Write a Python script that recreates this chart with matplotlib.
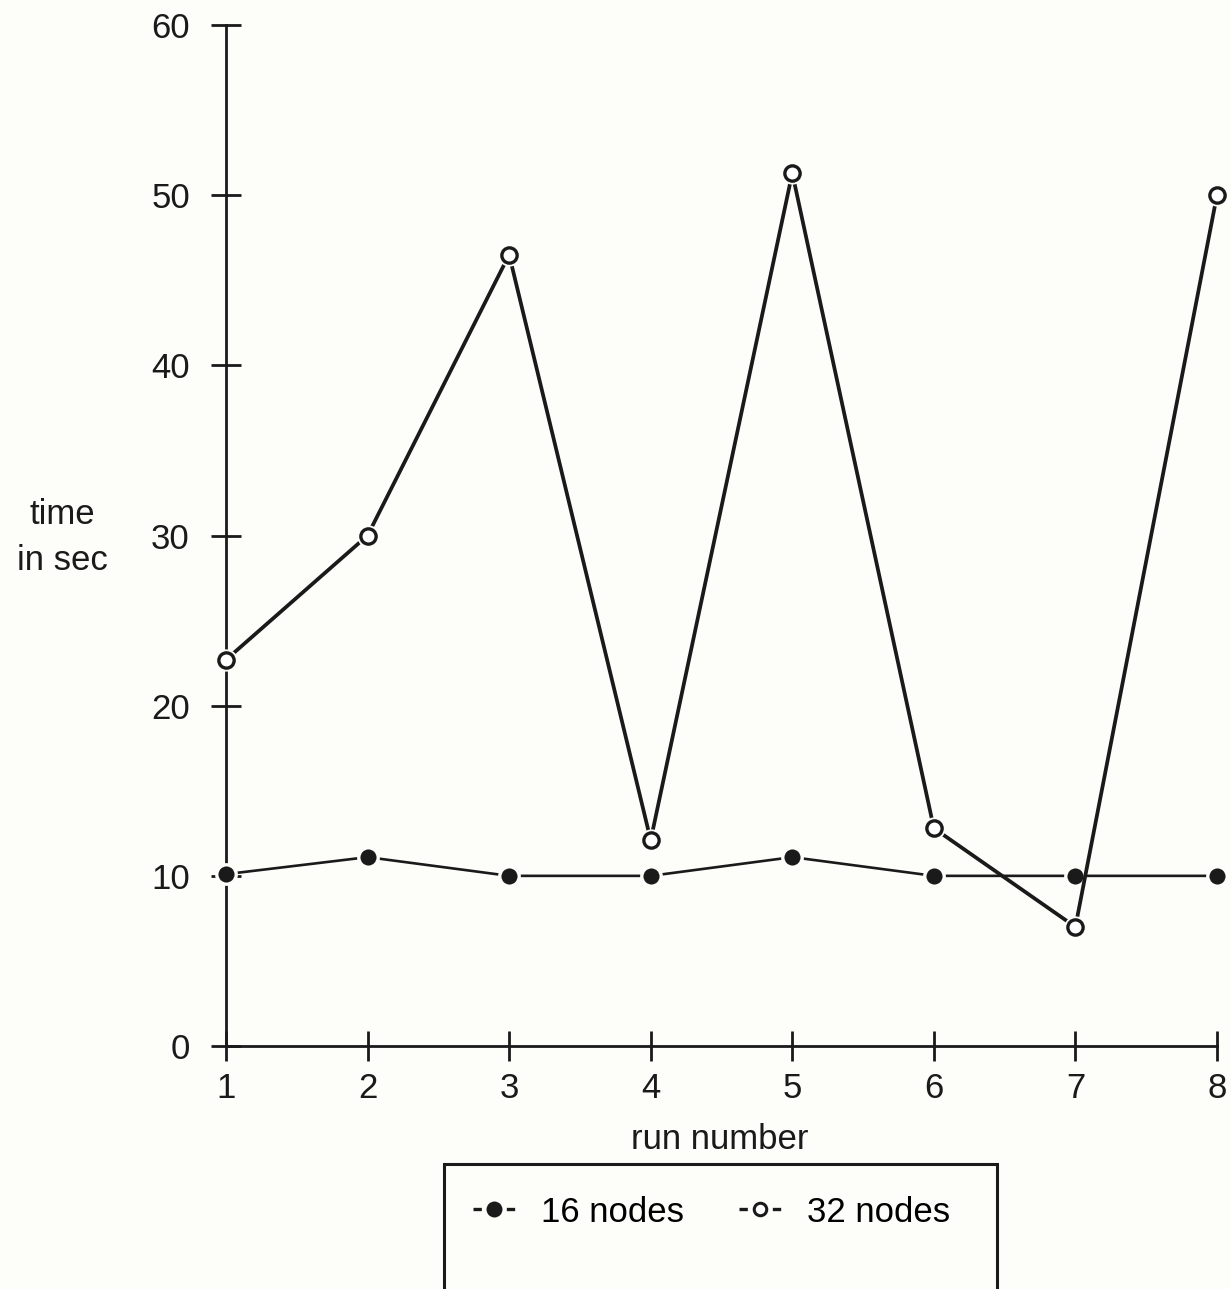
import matplotlib
matplotlib.use('Agg')
import matplotlib.pyplot as plt
from matplotlib.lines import Line2D
from matplotlib.patches import Rectangle

plt.rcParams['font.family'] = 'Liberation Sans'
plt.rcParams['lines.scale_dashes'] = False

font_size = 25

# data
runs = [1, 2, 3, 4, 5, 6, 7, 8]
nodes_16 = [10.1, 11.1, 10.0, 10.0, 11.1, 10.0, 10.0, 10.0]
nodes_32 = [22.7, 30.0, 46.5, 12.1, 51.3, 12.8, 7.0, 50.0]
y_ticks = [0, 10, 20, 30, 40, 50, 60]
labels = ['16 nodes', '32 nodes']

ink = '#1a1a1a'
bg = '#fdfdfa'
fig = plt.figure(figsize=(12.31, 12.89), dpi=100, facecolor=bg)
ax = fig.add_axes([0.1836, 0.1885, 0.8050, 0.7921], facecolor=bg)

ax.plot(runs, nodes_16, '-', color=ink, lw=1.9, marker='o', ms=14,
        mfc=ink, mec=bg, mew=2.4, zorder=3, clip_on=False)
ax.plot(runs, nodes_32, '-', color=ink, lw=2.7, zorder=4, clip_on=False)
# white halo so the line stops short of the open circles
ax.plot(runs, nodes_32, 'o', ms=15, mfc=bg, mec=bg, zorder=5, clip_on=False)
ax.plot(runs, nodes_32, 'o', ms=11, mfc='white', mec=ink, mew=2.4,
        zorder=6, clip_on=False)

ax.set_xlim(1, 8)
ax.set_ylim(0, 60)
ax.set_xticks(runs)
ax.set_yticks(y_ticks)

for side in ['top', 'right']:
    ax.spines[side].set_visible(False)
for side in ['left', 'bottom']:
    ax.spines[side].set_linewidth(2.0)
    ax.spines[side].set_color(ink)

ax.tick_params(axis='both', direction='inout', length=22, width=2.0,
               color=ink, labelsize=font_size, labelcolor=ink)
ax.tick_params(axis='y', pad=15)
ax.tick_params(axis='x', pad=8)

ax.set_xlabel('run number', fontsize=font_size, color=ink)
ax.xaxis.set_label_coords(0.4985, -0.075)
ax.set_ylabel('time\nin sec', fontsize=font_size, color=ink,
              rotation=0, ha='center', va='center', linespacing=1.5)
ax.yaxis.set_label_coords(-0.1655, 0.4985)

# legend: short dash, marker, short dash
hl = 1.2
L = font_size * hl
handles = [
    Line2D([], [], color=ink, lw=2.4, dashes=(6, L - 12), marker='o', ms=13,
           mfc=ink, mec=bg, mew=1.5),
    Line2D([], [], color=ink, lw=2.4, dashes=(6, L - 12), marker='o', ms=9,
           mfc='white', mec=ink, mew=2.2),
]
fig.legend(handles, labels, loc='center', bbox_to_anchor=(0.578, 0.0597),
           ncol=2, frameon=False, fontsize=font_size, handlelength=hl,
           handletextpad=0.75, columnspacing=1.6)

# legend box runs off the bottom of the page
fig.patches.append(Rectangle((0.3607, -0.05), 0.4493, 0.1473,
                             transform=fig.transFigure, fill=False,
                             edgecolor=ink, lw=2.2))

fig.savefig('out.png', dpi=100, facecolor=bg)
